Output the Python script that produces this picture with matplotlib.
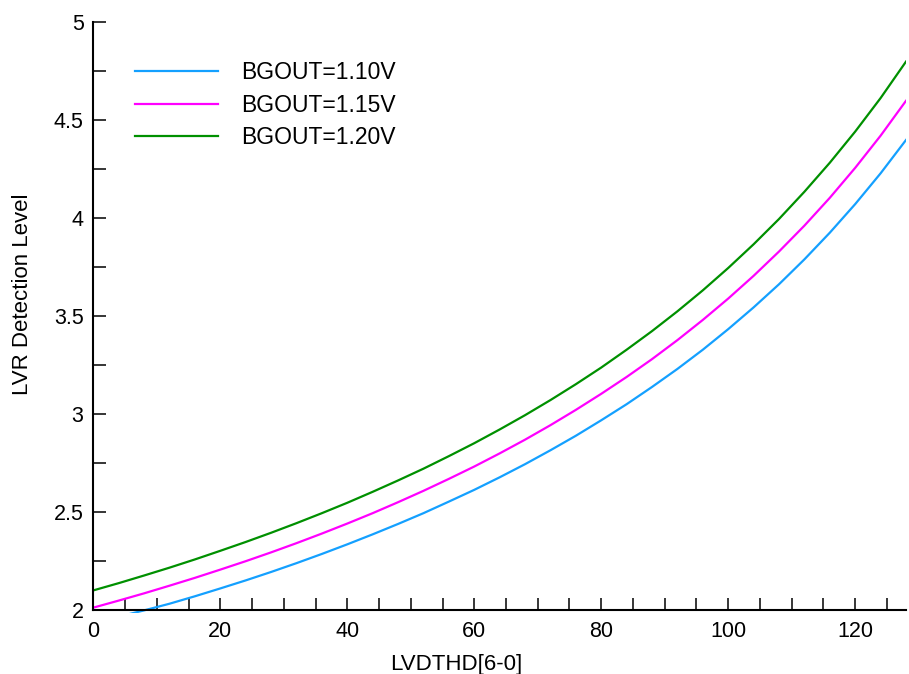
import matplotlib
matplotlib.use("Agg")
import matplotlib.pyplot as plt
from matplotlib.ticker import MultipleLocator
from matplotlib.patches import Rectangle

plt.rcParams['font.family'] = ['Liberation Sans', 'DejaVu Sans']

x_codes = [0, 4, 8, 12, 16, 20, 24, 28, 32, 36, 40, 44, 48, 52, 56, 60,
           64, 68, 72, 76, 80, 84, 88, 92, 96, 100, 104, 108, 112, 116, 120, 124, 128]

lvr_110 = [1.935, 1.966, 1.998, 2.032, 2.070, 2.110, 2.151, 2.194, 2.239, 2.286,
           2.335, 2.386, 2.439, 2.494, 2.553, 2.613, 2.677, 2.744, 2.815, 2.889,
           2.968, 3.050, 3.138, 3.230, 3.328, 3.433, 3.544, 3.662, 3.789, 3.925,
           4.071, 4.228, 4.398]
lvr_115 = [2.012, 2.048, 2.085, 2.124, 2.164, 2.206, 2.249, 2.294, 2.341, 2.390,
           2.441, 2.494, 2.550, 2.608, 2.669, 2.732, 2.799, 2.869, 2.943, 3.021,
           3.103, 3.189, 3.280, 3.377, 3.480, 3.589, 3.705, 3.829, 3.961, 4.103,
           4.256, 4.420, 4.598]
lvr_120 = [2.100, 2.137, 2.176, 2.216, 2.258, 2.302, 2.347, 2.394, 2.443, 2.494,
           2.547, 2.603, 2.661, 2.721, 2.785, 2.851, 2.921, 2.994, 3.071, 3.152,
           3.237, 3.328, 3.423, 3.524, 3.631, 3.745, 3.866, 3.995, 4.134, 4.282,
           4.441, 4.612, 4.798]

series_labels = ["BGOUT=1.10V", "BGOUT=1.15V", "BGOUT=1.20V"]
series_colors = ["#14A0FF", "#FF00FF", "#009000"]

fig = plt.figure(figsize=(9.09, 6.74), dpi=100)
ax = fig.add_axes([93.3/909, 1 - 610/674, 812.7/909, 588/674])

clip_box = Rectangle((0, 1.983), 128, 3.1, transform=ax.transData,
                     facecolor='none', edgecolor='none')
ax.add_patch(clip_box)

for ys, lab, col in zip([lvr_110, lvr_115, lvr_120], series_labels, series_colors):
    ln, = ax.plot(x_codes, ys, color=col, lw=1.6, label=lab)
    ln.set_clip_path(clip_box)

ax.set_xlim(0, 128)
ax.set_ylim(2, 5)
ax.xaxis.set_major_locator(MultipleLocator(20))
ax.xaxis.set_minor_locator(MultipleLocator(5))
ax.yaxis.set_major_locator(MultipleLocator(0.5))
ax.yaxis.set_minor_locator(MultipleLocator(0.25))
ax.yaxis.set_major_formatter(plt.FuncFormatter(lambda v, p: f"{v:g}"))

for s in ['top', 'right']:
    ax.spines[s].set_visible(False)
for s in ['left', 'bottom']:
    ax.spines[s].set_linewidth(1.5)

ax.tick_params(which='both', direction='in', length=9, width=1.1, labelsize=15.5)
ax.tick_params(axis='y', pad=7)
ax.tick_params(axis='x', pad=8)

ax.set_xlabel("LVDTHD[6-0]", fontsize=16)
ax.set_ylabel("LVR Detection Level", fontsize=16)
ax.xaxis.set_label_coords(0.447, -0.074)
ax.yaxis.set_label_coords(-0.0745, 0.537)

ax.legend(loc='upper left', bbox_to_anchor=((135 - 93.3) / 812.7, (610 - 61) / 588),
          frameon=False, fontsize=16.5, handlelength=3.6, handletextpad=1.05,
          labelspacing=0.42, borderpad=0, borderaxespad=0)

fig.savefig("out.png", dpi=100)
